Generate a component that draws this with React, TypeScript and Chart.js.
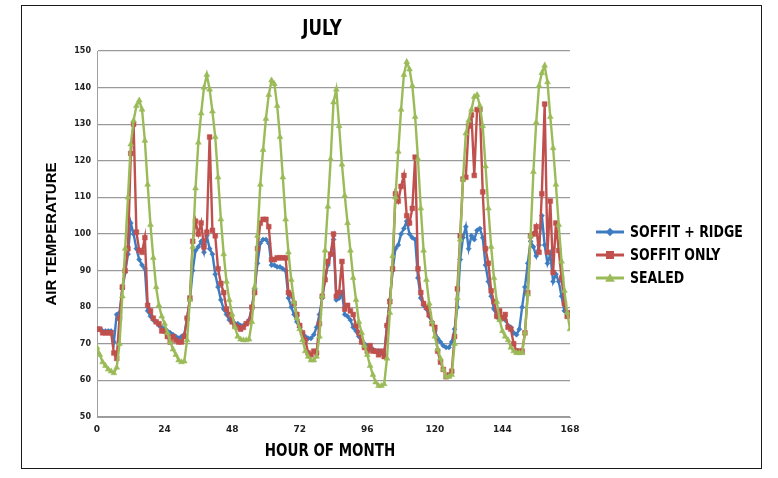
import React, { useEffect, useRef } from 'react';
import { Chart, registerables } from 'chart.js';

Chart.register(...registerables);

const TITLE = 'JULY';
const X_TITLE = 'HOUR OF MONTH';
const Y_TITLE = 'AIR TEMPERATURE';
const SERIES_NAMES = ['SOFFIT + RIDGE', 'SOFFIT ONLY', 'SEALED'];
const COLORS = ['#3E7CC2', '#C0504D', '#9BBB59'];
const X_TICKS = [0, 24, 48, 72, 96, 120, 144, 168];
const Y_MIN = 50;
const Y_MAX = 150;
const Y_STEP = 10;

// hour of month (category positions 0..168)
const HOURS = Array.from({ length: 169 }, (_, i) => i);

const SOFFIT_RIDGE = [
  74, 74, 73.5, 73.5, 73.5, 73.5, 70.5, 78, 78.5, 85, 89.5, 94.5, 103, 100, 96, 93, 91.5, 90.5, 79, 77.5, 76.5, 76, 75, 74.5,
  74, 73.5, 73, 72.5, 72, 71.5, 72, 72.5, 77, 82, 90, 95.5, 96.5, 98, 95, 99.5, 96, 94.5, 89, 85.5, 82, 79.5, 78, 76.5,
  76, 75.5, 75.5, 75, 75, 75.5, 76.5, 80, 85, 92, 97.5, 98.5, 98.5, 97.5, 91.5, 91.5, 91, 91, 90.5, 90, 82.5, 80, 78, 76,
  74.5, 73, 72, 71.5, 71.5, 72.5, 74.5, 78, 82.5, 87.5, 91.5, 94.5, 98.5, 82, 82.5, 84, 78, 77.5, 76.5, 74.5, 73.5, 72, 70.5, 70,
  69.5, 68.5, 68.5, 68, 68, 67.5, 67, 75, 82, 90, 96, 97, 100, 101.5, 103.5, 100, 99, 98.5, 88, 82.5, 80.5, 79.5, 77.5, 76,
  73.5, 71.5, 70.5, 69.5, 69, 69, 70.5, 74, 80, 93, 99, 102, 96, 99.5, 98.5, 101, 101.5, 99, 91.5, 87, 83, 79.5, 77.5, 76.5,
  77, 76.5, 75, 74.5, 73, 72.5, 74, 80, 85.5, 92, 98, 96.5, 94, 97, 105, 97, 92, 94.5, 87, 89, 87, 83, 79, 78.5,
  78.5,
];

const SOFFIT_ONLY = [
  74, 74, 73, 73, 73, 73, 67.5, 66, 77, 85.5, 90, 96, 122, 130, 100.5, 95.5, 95, 99, 80.5, 79, 77, 76, 75.5, 73.5,
  73.5, 72, 70.5, 72, 71, 70.5, 70.5, 72, 77, 82.5, 98, 103.5, 100, 103, 96.5, 100.5, 126.5, 101, 99.5, 90.5, 86.5, 84, 79.5, 78,
  76, 75, 74.5, 74, 74.5, 75.5, 76, 80, 84, 96, 103, 104, 104, 102, 93, 93, 93.5, 93.5, 93.5, 93.5, 84, 83.5, 81, 78,
  75, 73, 71, 67.5, 67, 68, 67.5, 75.5, 83, 87.5, 92.5, 94.5, 100, 83, 84, 92.5, 79.5, 80.5, 79, 78, 75, 73, 70.5, 69,
  68, 69.5, 68, 68, 67, 68, 66.5, 75, 81.5, 90.5, 111, 109, 113, 116, 105, 103, 107, 121, 90.5, 84, 81, 80, 78, 75.5,
  74.5, 68, 65, 63, 61, 61.5, 62.5, 72, 85, 99.5, 115, 115.5, 129.5, 132.5, 116, 134, 134, 111.5, 96, 92, 84.5, 81.5, 77.5, 79,
  77, 78, 74.5, 74, 70, 68, 68, 68, 73, 84, 99.5, 100, 102, 95, 111, 135.5, 95, 109, 89.5, 103, 95.5, 88, 81, 77.5,
  78.5,
];

const SEALED = [
  69, 67, 65, 64, 63, 62.5, 62, 63.5, 70, 83, 96, 110, 124.5, 131, 135, 136.5, 134, 125.5, 113.5, 102.5, 93.5, 85.5, 80.5, 77.5,
  75.5, 73, 70.5, 68.5, 67, 65.5, 65, 65.2, 71, 82, 96.5, 112.5, 125, 133, 140, 143.5, 139.5, 133.5, 126.5, 115.5, 104, 94.5, 87, 82,
  78, 74.5, 72, 71.2, 71, 71, 71.2, 76, 85.5, 99.5, 113.5, 123, 131.5, 138, 142, 141, 135, 126.5, 115.5, 104, 95, 87.5, 81.5, 77,
  74, 71, 68, 66.5, 65.5, 65.5, 66.5, 72, 83, 95.5, 107.5, 120.5, 136, 139.5, 129.5, 119, 110.5, 103, 95.5, 88, 82, 76, 73, 69.5,
  67, 64, 61.5, 59.5, 58.5, 58.5, 59, 66, 78.5, 94, 110, 122.5, 134, 143.5, 147, 145, 140.5, 132, 120.5, 107, 95.5, 87.5, 81, 76,
  72, 68.5, 66, 63, 61, 61, 61.5, 70, 82.5, 98.5, 115, 127.5, 131, 134, 137.5, 138, 135, 129.5, 118.5, 107, 96.5, 88, 81.5, 76.5,
  73.5, 72, 71, 69, 68, 67.5, 67.5, 67.5, 73, 83.5, 99.5, 117, 130.5, 140.5, 144, 146, 141.5, 132, 123.5, 113.5, 102.5, 92.5, 84.5, 78.5,
  74,
];

const SERIES = [SOFFIT_RIDGE, SOFFIT_ONLY, SEALED];
const POINT_STYLES = ['rectRot', 'rect', 'triangle'];
const POINT_RADII = [2.6, 3.4, 3.4];

const NARROW = "'Liberation Sans Narrow', 'DejaVu Sans Condensed', 'Arial Narrow', sans-serif";

function drawMarker(ctx: CanvasRenderingContext2D, style: string, x: number, y: number, r: number) {
  ctx.beginPath();
  if (style === 'rectRot') {
    const d = r * 1.3;
    ctx.moveTo(x, y - d);
    ctx.lineTo(x + d, y);
    ctx.lineTo(x, y + d);
    ctx.lineTo(x - d, y);
  } else if (style === 'rect') {
    const s = r;
    ctx.rect(x - s, y - s, s * 2, s * 2);
  } else {
    const s = r * 1.2;
    ctx.moveTo(x, y - s);
    ctx.lineTo(x + s, y + s * 0.8);
    ctx.lineTo(x - s, y + s * 0.8);
  }
  ctx.closePath();
  ctx.fill();
}

function narrowText(ctx: CanvasRenderingContext2D, text: string, x: number, y: number, size: number, squeeze: number, align: CanvasTextAlign) {
  ctx.save();
  ctx.translate(x, y);
  ctx.scale(squeeze, 1);
  ctx.font = `bold ${size}px ${NARROW}`;
  ctx.textAlign = align;
  ctx.textBaseline = 'middle';
  ctx.fillStyle = '#000';
  ctx.fillText(text, 0, 0);
  ctx.restore();
}

const decorPlugin = {
  id: 'decor',
  afterDraw(chart: any) {
    const ctx: CanvasRenderingContext2D = chart.ctx;
    ctx.save();
    ctx.strokeStyle = '#1a1a1a';
    ctx.lineWidth = 1;
    ctx.strokeRect(21.5, 5.5, 740, 463);

    narrowText(ctx, TITLE, 322, 30, 21, 0.88, 'center');
    narrowText(ctx, X_TITLE, 330, 451, 18, 0.83, 'center');

    SERIES_NAMES.forEach((name, i) => {
      const y = 232 + i * 23;
      ctx.strokeStyle = COLORS[i];
      ctx.lineWidth = 3;
      ctx.beginPath();
      ctx.moveTo(596, y);
      ctx.lineTo(624, y);
      ctx.stroke();
      ctx.fillStyle = COLORS[i];
      drawMarker(ctx, POINT_STYLES[i], 610, y, POINT_RADII[i] + 0.6);
      narrowText(ctx, name, 630, y + 1, 16, 0.87, 'left');
    });
    ctx.restore();
  },
};

export default function App() {
  const ref = useRef<HTMLCanvasElement | null>(null);

  useEffect(() => {
    if (!ref.current) return;
    const datasets = SERIES.map((vals, i) => ({
      label: SERIES_NAMES[i],
      data: HOURS.map((h, k) => ({ x: h, y: vals[k] })),
      borderColor: COLORS[i],
      backgroundColor: COLORS[i],
      borderWidth: 2.4,
      pointStyle: POINT_STYLES[i],
      pointRadius: POINT_RADII[i],
      pointBorderWidth: 0.5,
      pointBorderColor: COLORS[i],
      pointBackgroundColor: COLORS[i],
      tension: 0,
      order: 3 - i,
    }));

    const chart = new Chart(ref.current, {
      type: 'line',
      data: { datasets },
      plugins: [decorPlugin],
      options: {
        responsive: false,
        animation: false,
        events: [],
        layout: { padding: { left: 30, top: 51, right: 208, bottom: 0 } },
        plugins: {
          legend: { display: false },
          title: { display: false },
          tooltip: { enabled: false },
        },
        scales: {
          x: {
            type: 'linear',
            min: 0,
            max: 168,
            afterBuildTicks: (s: any) => {
              s.ticks = X_TICKS.map((v) => ({ value: v }));
            },
            afterFit: (s: any) => {
              s.height = 61;
            },
            grid: { display: false, drawTicks: false },
            border: { display: true, color: '#a0a0a0', width: 1 },
            ticks: {
              font: { family: 'DejaVu Sans', size: 9, weight: 'bold' },
              color: '#222',
              padding: 7,
              maxRotation: 0,
              autoSkip: false,
            },
            title: { display: false },
          },
          y: {
            type: 'linear',
            min: Y_MIN,
            max: Y_MAX,
            afterFit: (s: any) => {
              s.width = 67;
            },
            ticks: {
              stepSize: Y_STEP,
              font: { family: 'DejaVu Sans', size: 8, weight: 'bold' },
              color: '#222',
              padding: 6,
            },
            grid: { color: '#9a9a9a', lineWidth: 1.2, drawTicks: false },
            border: { display: true, color: '#a0a0a0', width: 1 },
            title: {
              display: true,
              text: Y_TITLE,
              font: { family: 'Liberation Sans', size: 15, weight: 'bold' },
              color: '#000',
              padding: { top: 13, bottom: 0 },
            },
          },
        },
      } as any,
    });
    return () => chart.destroy();
  }, []);

  return (
    <div style={{ position: 'absolute', left: 0, top: 0, width: 778, height: 478, background: '#fff' }}>
      <canvas ref={ref} width={778} height={478} style={{ display: 'block', width: 778, height: 478 }} />
    </div>
  );
}
